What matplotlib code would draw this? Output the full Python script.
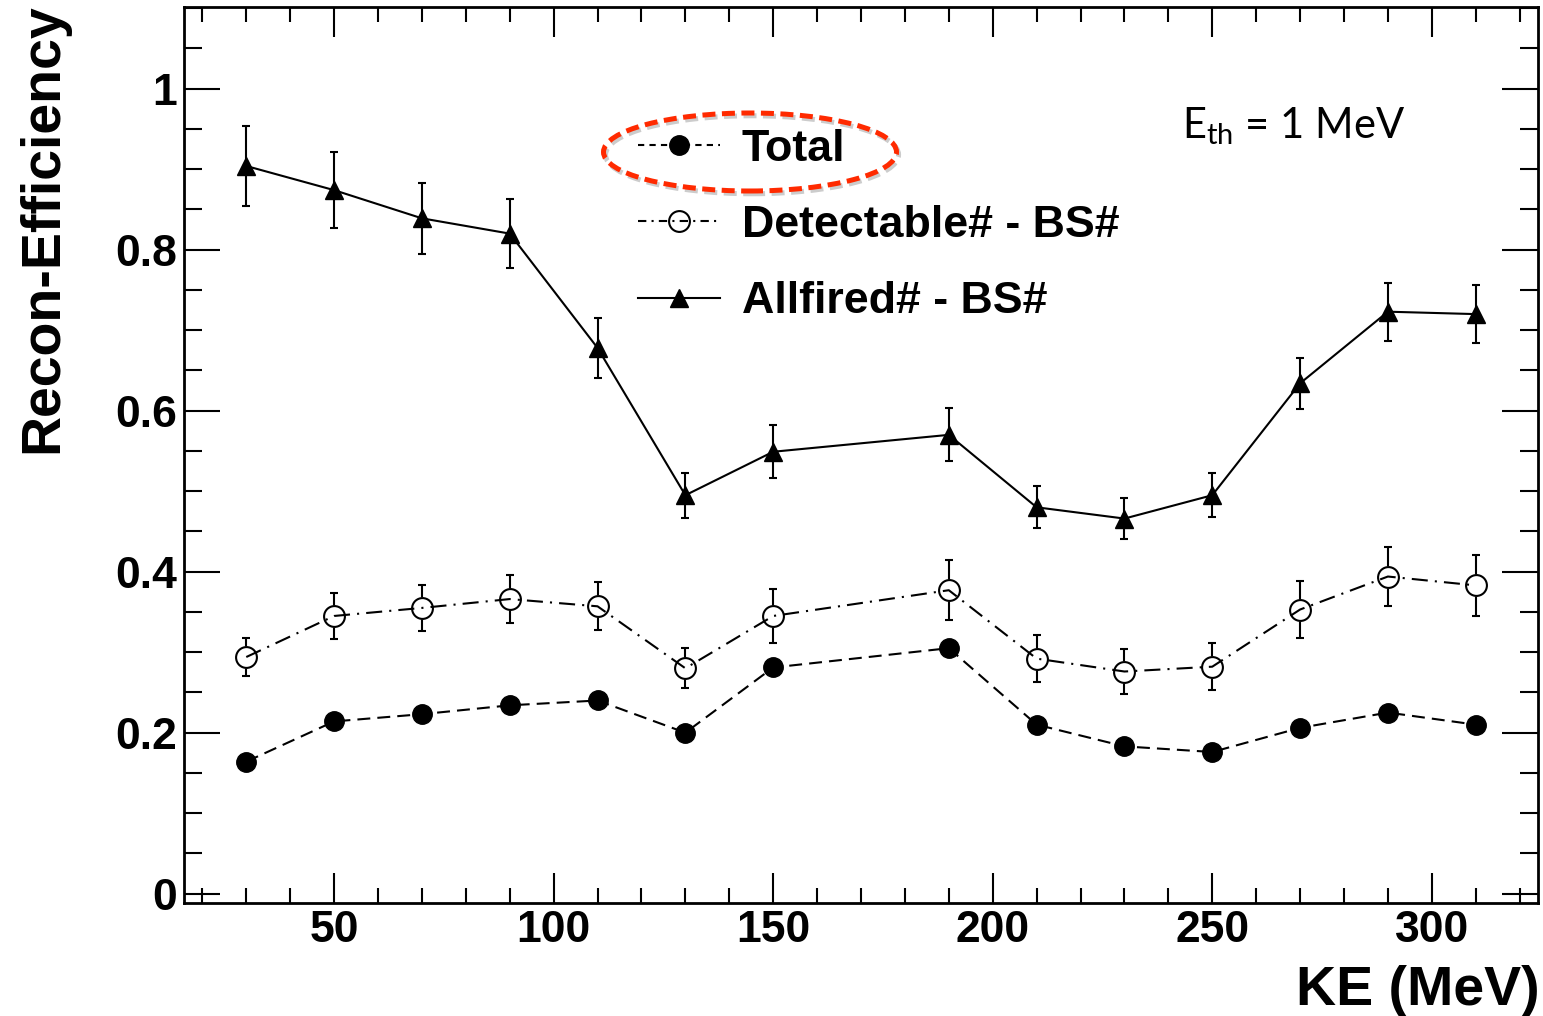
import matplotlib
matplotlib.use('Agg')
import matplotlib.pyplot as plt
import matplotlib.ticker as ticker
import matplotlib.patheffects as pe
from matplotlib.patches import Ellipse
from matplotlib.lines import Line2D

plt.rcParams['font.family'] = ['Liberation Sans', 'DejaVu Sans']
plt.rcParams['font.weight'] = 'bold'
plt.rcParams['mathtext.fontset'] = 'custom'
plt.rcParams['mathtext.rm'] = 'Lato:weight=normal'
plt.rcParams['mathtext.it'] = 'Lato:italic:weight=normal'

# 데이터 (KE in MeV, 170 없음)
ke = [30, 50, 70, 90, 110, 130, 150, 190, 210, 230, 250, 270, 290, 310]
total = [0.164, 0.214, 0.223, 0.234, 0.240, 0.200, 0.281, 0.305, 0.210, 0.183, 0.176, 0.206, 0.225, 0.210]
detect = [0.294, 0.345, 0.355, 0.366, 0.357, 0.280, 0.345, 0.377, 0.292, 0.276, 0.282, 0.353, 0.394, 0.383]
detect_err = [0.024, 0.028, 0.029, 0.030, 0.030, 0.025, 0.033, 0.037, 0.029, 0.028, 0.029, 0.035, 0.037, 0.038]
allfired = [0.904, 0.874, 0.839, 0.820, 0.678, 0.495, 0.549, 0.570, 0.480, 0.466, 0.495, 0.634, 0.723, 0.720]
allfired_err = [0.050, 0.047, 0.044, 0.043, 0.037, 0.028, 0.033, 0.033, 0.026, 0.025, 0.027, 0.032, 0.036, 0.036]

labels = ['Total', 'Detectable# - BS#', 'Allfired# - BS#']

dash_total = (0, (6.2, 3.4))
dash_detect = (0, (7.7, 3.4, 1.0, 3.4))

fig = plt.figure(figsize=(15.43, 10.16), dpi=100)
ax = fig.add_axes([0.1192, 0.1112, 0.8776, 0.8819])

# Allfired
ax.errorbar(ke, allfired, yerr=allfired_err, fmt='-^', color='k', ms=13.5, lw=1.5,
            elinewidth=1.5, capsize=3, capthick=1.5, zorder=3)

# Detectable (error bars hidden inside the open markers)
ax.errorbar(ke, detect, yerr=detect_err, fmt='none', ecolor='k', elinewidth=1.5,
            capsize=3, capthick=1.5, zorder=2)
ax.plot(ke, detect, 'o', ms=15, mfc='white', mec='white', ls='none', zorder=3)
ax.plot(ke, detect, ls=dash_detect, color='k', lw=1.5, zorder=4)
ax.plot(ke, detect, 'o', ms=15, mfc='none', mec='k', mew=1.5, ls='none', zorder=5)

# Total
ax.plot(ke, total, ls=dash_total, marker='o', color='k', ms=14, lw=1.5, zorder=5)

ax.set_xlim(15.8, 324.2)
ax.set_ylim(-0.0116, 1.1015)
ax.xaxis.set_major_locator(ticker.MultipleLocator(50))
ax.xaxis.set_minor_locator(ticker.MultipleLocator(10))
ax.yaxis.set_major_locator(ticker.MultipleLocator(0.2))
ax.yaxis.set_minor_locator(ticker.MultipleLocator(0.05))
ax.yaxis.set_major_formatter(ticker.FormatStrFormatter('%g'))
ax.tick_params(which='both', direction='in', top=True, right=True, width=1.5,
               labelsize=32)
ax.tick_params(axis='x', which='major', length=21.6, pad=5)
ax.tick_params(axis='x', which='minor', length=10.8)
ax.tick_params(axis='y', which='major', length=26, pad=5)
ax.tick_params(axis='y', which='minor', length=13)
for s in ax.spines.values():
    s.set_linewidth(2)

fig.text(1540 / 1543, 11 / 1016, 'KE (MeV)', ha='right', va='baseline', fontsize=40)
fig.text(57 / 1543, 1 - 3 / 1016, 'Recon-Efficiency', rotation=90, rotation_mode='anchor',
         ha='right', va='baseline', fontsize=40)

fig.text(1182 / 1543, 1 - 138 / 1016, r'E$_{\mathrm{th}}$ = 1 MeV', fontfamily='Lato',
         fontweight='normal', fontsize=30, ha='left', va='baseline')

# 범례
handles = [
    Line2D([], [], color='k', lw=1.5, ls=(0, (3, 2.5)), marker='o', ms=14),
    Line2D([], [], color='k', lw=1.5, ls=(0, (4, 2.5, 1, 2.5)), marker='o', ms=15,
           mfc='none', mew=1.5),
    Line2D([], [], color='k', lw=1.5, ls='-', marker='^', ms=13.5),
]
ax.legend(handles, labels, loc='upper left', bbox_to_anchor=(638 / 1543, 1 - 129 / 1016),
          bbox_transform=fig.transFigure, frameon=False, fontsize=32.2,
          handlelength=1.83, handletextpad=0.49, labelspacing=0.785,
          borderpad=0, borderaxespad=0)

# 빨간 점선 타원
ell = Ellipse((750 / 1543, 1 - 152 / 1016), 293 / 1543, 78 / 1016, transform=fig.transFigure,
              fill=False, edgecolor='#ff2a00', lw=3.6, ls=(0, (2.6, 1.3)), zorder=10)
ell.set_path_effects([pe.SimpleLineShadow(offset=(1.5, -2), shadow_color='gray', alpha=0.4),
                      pe.Normal()])
fig.add_artist(ell)

fig.savefig('out.png', dpi=100)
